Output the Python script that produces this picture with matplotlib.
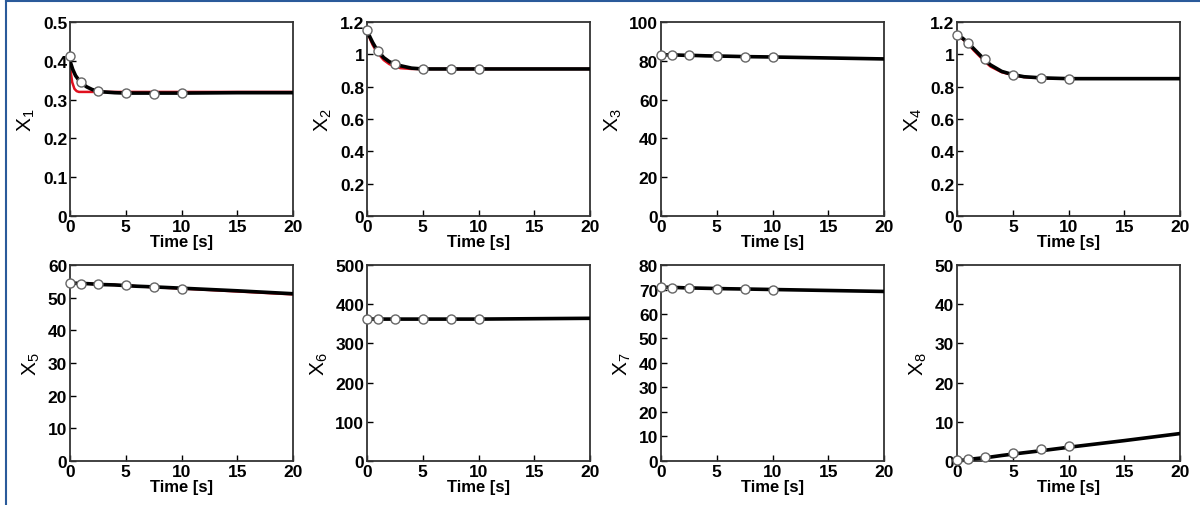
import numpy as np
import matplotlib.pyplot as plt
from matplotlib.lines import Line2D

plt.rcParams['font.family'] = ['Liberation Sans', 'DejaVu Sans']
plt.rcParams['font.weight'] = 'bold'

# measurement times (markers) and curve times
t_meas = [0, 1, 2.5, 5, 7.5, 10]
t_curve = [0, 0.25, 0.5, 0.75, 1, 1.5, 2, 2.5, 3, 4, 5, 6, 7.5, 10, 15, 20]
t_fast = [0, 0.2, 0.4, 0.6, 0.8, 1, 1.5, 2, 3, 5, 10, 20]

# X1
x1_meas = [0.412, 0.345, 0.322, 0.316, 0.315, 0.316]
x1_black = [0.40, 0.378, 0.362, 0.352, 0.344, 0.333, 0.326, 0.322, 0.320, 0.318, 0.317, 0.317, 0.317, 0.317, 0.318, 0.318]
x1_red = [0.385, 0.345, 0.328, 0.322, 0.320, 0.320, 0.320, 0.320, 0.320, 0.320, 0.320, 0.320]

# X2
x2_meas = [1.15, 1.02, 0.94, 0.91, 0.91, 0.91]
x2_black = [1.15, 1.11, 1.075, 1.045, 1.02, 0.98, 0.955, 0.94, 0.93, 0.915, 0.91, 0.91, 0.91, 0.91, 0.91, 0.91]
x2_red = [1.15, 1.10, 1.06, 1.03, 1.005, 0.965, 0.94, 0.925, 0.915, 0.91, 0.91, 0.91, 0.91, 0.91, 0.91, 0.91]

# X3
x3_meas = [83.2, 83.0, 82.8, 82.5, 82.2, 82.0]
x3_black = [83.2, 83.2, 83.1, 83.1, 83.0, 83.0, 82.9, 82.8, 82.8, 82.6, 82.5, 82.4, 82.2, 82.0, 81.5, 81.0]

# X4
x4_meas = [1.12, 1.07, 0.97, 0.875, 0.855, 0.85]
x4_black = [1.12, 1.11, 1.10, 1.085, 1.07, 1.035, 1.0, 0.965, 0.935, 0.895, 0.875, 0.862, 0.855, 0.85, 0.85, 0.85]
x4_red = [1.12, 1.11, 1.095, 1.08, 1.065, 1.025, 0.99, 0.955, 0.925, 0.89, 0.872, 0.86, 0.853, 0.85, 0.85, 0.85]

# X5
x5_meas = [54.5, 54.3, 54.2, 53.8, 53.3, 52.8]
x5_black = [54.5, 54.5, 54.4, 54.4, 54.3, 54.3, 54.2, 54.1, 54.0, 53.9, 53.7, 53.5, 53.3, 52.9, 52.1, 51.2]
x5_red = [54.5, 54.5, 54.4, 54.4, 54.3, 54.3, 54.2, 54.1, 54.0, 53.9, 53.7, 53.5, 53.2, 52.8, 51.9, 51.0]

# X6
x6_meas = [362, 362, 362, 362, 362, 362]
x6_black = [362, 362, 362, 362, 362, 362, 362, 362, 362, 362, 362, 362, 362, 362, 363, 364]

# X7
x7_meas = [71.0, 70.8, 70.6, 70.3, 70.1, 69.9]
x7_black = [71.0, 71.0, 70.9, 70.9, 70.8, 70.8, 70.7, 70.6, 70.6, 70.5, 70.4, 70.3, 70.2, 70.0, 69.6, 69.2]

# X8
x8_meas = [0.2, 0.6, 1.0, 2.0, 3.0, 3.8]
x8_black = [0.0, 0.1, 0.2, 0.3, 0.4, 0.55, 0.7, 0.9, 1.0, 1.4, 1.75, 2.1, 2.6, 3.5, 5.2, 7.0]

panels = [
    ('1', x1_meas, x1_black, x1_red, t_fast, [0, 0.5], np.arange(0, 0.51, 0.1), ['0', '0.1', '0.2', '0.3', '0.4', '0.5']),
    ('2', x2_meas, x2_black, x2_red, t_curve, [0, 1.2], np.arange(0, 1.21, 0.2), ['0', '0.2', '0.4', '0.6', '0.8', '1', '1.2']),
    ('3', x3_meas, x3_black, None, None, [0, 100], np.arange(0, 101, 20), None),
    ('4', x4_meas, x4_black, x4_red, t_curve, [0, 1.2], np.arange(0, 1.21, 0.2), ['0', '0.2', '0.4', '0.6', '0.8', '1', '1.2']),
    ('5', x5_meas, x5_black, x5_red, t_curve, [0, 60], np.arange(0, 61, 10), None),
    ('6', x6_meas, x6_black, None, None, [0, 500], np.arange(0, 501, 100), None),
    ('7', x7_meas, x7_black, None, None, [0, 80], np.arange(0, 81, 10), None),
    ('8', x8_meas, x8_black, None, None, [0, 50], np.arange(0, 51, 10), None),
]

lefts = [0.0583, 0.3058, 0.5508, 0.7975]
bottoms = [0.571, 0.087]
width = 0.186
heights = [0.3834, 0.3873]

fig = plt.figure(figsize=(12, 5.06), dpi=100)

for i, (num, meas, black, red, t_red, ylim, yticks, ylabels) in enumerate(panels):
    row, col = divmod(i, 4)
    ax = fig.add_axes([lefts[col], bottoms[row], width, heights[row]])
    if red is not None:
        ax.plot(t_red, red, color='#e0101e', lw=1.8, zorder=2)
    ax.plot(t_curve, black, color='black', lw=2.6, zorder=3)
    ax.plot(t_meas, meas, 'o', ms=6.5, mfc='white', mec='#666666', mew=1.0, zorder=4, clip_on=False)
    ax.set_xlim(0, 20)
    ax.set_ylim(*ylim)
    ax.set_xticks([0, 5, 10, 15, 20])
    ax.set_yticks(yticks)
    if ylabels is not None:
        ax.set_yticklabels(ylabels)
    ax.tick_params(direction='in', length=4, width=1, labelsize=12.5, pad=2)
    for s in ax.spines.values():
        s.set_linewidth(1.3)
        s.set_color('#333333')
    ax.set_xlabel('Time [s]', fontsize=12, fontweight='bold', labelpad=0)
    ax.set_ylabel('X$_{\\mathregular{' + num + '}}$', fontsize=15, fontweight='normal', labelpad=4)

# blue frame on left and top
fig.add_artist(Line2D([0.005, 0.005], [0, 0.996], transform=fig.transFigure, color='#2a5a9a', lw=1.5))
fig.add_artist(Line2D([0.005, 1.0], [0.996, 0.996], transform=fig.transFigure, color='#2a5a9a', lw=1.5))

fig.savefig('out.png', dpi=100)
